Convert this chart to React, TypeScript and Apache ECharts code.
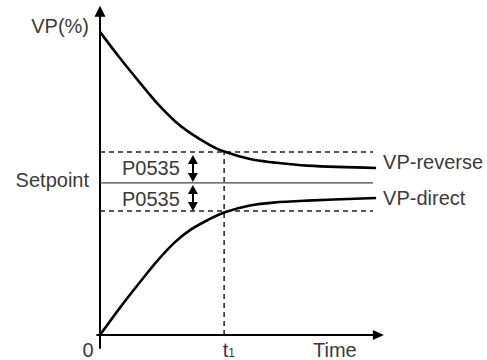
import React, { useEffect, useRef } from "react";
import * as echarts from "echarts";

// Time samples (shared by both responses), in % of the time axis
const timePoints = [0, 7.0, 14.1, 20.4, 26.4, 31.7, 38.7, 43.7, 52.8, 60.9, 72.9, 97.2];
// VP (%) responses
const vpReverse = [92.7, 84.7, 77.1, 70.6, 65.4, 61.8, 58.1, 56.1, 53.8, 52.8, 51.8, 51.1];
const vpDirect = [0, 8.3, 16.2, 22.9, 28.4, 32.1, 35.5, 37.5, 39.6, 40.5, 41.1, 41.9];

// Reference levels
const setpointLevel = [46.5];
const bandLevels = [56.0, 37.9]; // setpoint + P0535, setpoint - P0535
const t1Value = [43.7];
const refLineEnd = [96.1];
// double-arrow spans (P0535)
const arrowX = [32.7];
const arrowUpper = [53.7, 48.2];
const arrowLower = [44.5, 39.3];

const labelNames = ["VP(%)", "Setpoint", "P0535", "VP-reverse", "VP-direct", "0", "t", "1", "Time"];

const FONT = '"Liberation Sans", Arial, sans-serif';
const TXT = "#3a3a3a";

export default function App() {
  const ref = useRef<HTMLDivElement>(null);

  useEffect(() => {
    document.body.style.margin = "0";
    if (!ref.current) return;
    const chart = echarts.init(ref.current, null, { renderer: "svg" });

    const dashed = { type: [5, 4] as any, width: 1.5, color: "#222" };
    const flat = (x0: number, x1: number, y: number) => [[x0, y], [x1, y]];

    const option: any = {
      animation: false,
      grid: { left: 97.16, top: 11.3, width: 281.2, height: 336.8 },
      xAxis: {
        type: "value",
        min: -1,
        max: 98,
        splitLine: { show: false },
        axisTick: { show: false },
        axisLabel: { show: false },
        axisLine: {
          onZero: true,
          symbol: ["none", "triangle"],
          symbolSize: [10, 11],
          lineStyle: { color: "#000", width: 2 },
        },
      },
      yAxis: {
        type: "value",
        min: -4,
        max: 99,
        splitLine: { show: false },
        axisTick: { show: false },
        axisLabel: { show: false },
        axisLine: {
          onZero: true,
          symbol: ["none", "triangle"],
          symbolSize: [11, 11],
          lineStyle: { color: "#000", width: 2 },
        },
      },
      series: [
        {
          type: "line",
          data: flat(0, refLineEnd[0], bandLevels[0]),
          symbol: "none",
          silent: true,
          lineStyle: dashed,
        },
        {
          type: "line",
          data: flat(0, refLineEnd[0], bandLevels[1]),
          symbol: "none",
          silent: true,
          lineStyle: dashed,
        },
        {
          type: "line",
          data: flat(0, refLineEnd[0], setpointLevel[0]),
          symbol: "none",
          silent: true,
          lineStyle: { color: "#444", width: 1.3 },
        },
        {
          type: "line",
          data: [
            [t1Value[0], 0],
            [t1Value[0], bandLevels[0]],
          ],
          symbol: "none",
          silent: true,
          lineStyle: dashed,
        },
        {
          type: "line",
          data: [],
          silent: true,
          markLine: {
            silent: true,
            symbol: ["triangle", "triangle"],
            symbolSize: [10, 9],
            label: { show: false },
            lineStyle: { color: "#000", width: 2, type: "solid" },
            emphasis: { disabled: true },
            data: [
              [{ coord: [arrowX[0], arrowUpper[0]] }, { coord: [arrowX[0], arrowUpper[1]] }],
              [{ coord: [arrowX[0], arrowLower[0]] }, { coord: [arrowX[0], arrowLower[1]] }],
            ],
          },
        },
        {
          name: "VP-reverse",
          type: "line",
          data: timePoints.map((t, i) => [t, vpReverse[i]]),
          symbol: "none",
          smooth: 0.35,
          silent: true,
          lineStyle: { color: "#000", width: 2.6 },
        },
        {
          name: "VP-direct",
          type: "line",
          data: timePoints.map((t, i) => [t, vpDirect[i]]),
          symbol: "none",
          smooth: 0.35,
          silent: true,
          lineStyle: { color: "#000", width: 2.6 },
        },
      ],
    };
    chart.setOption(option);

    const px = (x: number, y: number) =>
      chart.convertToPixel({ xAxisIndex: 0, yAxisIndex: 0 }, [x, y]) as number[];
    const o = px(0, 0);
    const spY = px(0, setpointLevel[0])[1];
    const upY = px(0, bandLevels[0])[1];
    const loY = px(0, bandLevels[1])[1];
    const t1x = px(t1Value[0], 0)[0];
    const n = timePoints.length - 1;
    const revEnd = px(timePoints[n], vpReverse[n]);
    const dirEnd = px(timePoints[n], vpDirect[n]);

    const txt = (
      text: string,
      x: number,
      y: number,
      align: string,
      size = 20
    ) => ({
      type: "text",
      x,
      y,
      silent: true,
      style: {
        text,
        font: `${size}px ${FONT}`,
        fill: TXT,
        align,
        verticalAlign: "middle",
        textAlign: align,
        textVerticalAlign: "middle",
      },
    });

    chart.setOption({
      graphic: [
        txt(labelNames[0], o[0] - 11, 26, "right"),
        txt(labelNames[1], o[0] - 11, spY - 3, "right"),
        txt(labelNames[2], o[0] + 22, (upY + spY) / 2 + 1, "left"),
        txt(labelNames[2], o[0] + 22, (spY + loY) / 2 + 1.5, "left"),
        txt(labelNames[3], revEnd[0] + 7, revEnd[1] - 5.5, "left"),
        txt(labelNames[4], dirEnd[0] + 7, dirEnd[1] - 0.5, "left"),
        txt(labelNames[5], o[0] - 6.5, o[1] + 14.5, "right"),
        txt(labelNames[6], t1x + 1.5, o[1] + 14.5, "center"),
        txt(labelNames[7], t1x + 4, o[1] + 18, "left", 12),
        txt(labelNames[8], 313, o[1] + 14.5, "left"),
      ],
    });

    return () => chart.dispose();
  }, []);

  return <div ref={ref} style={{ width: 487, height: 360 }} />;
}
